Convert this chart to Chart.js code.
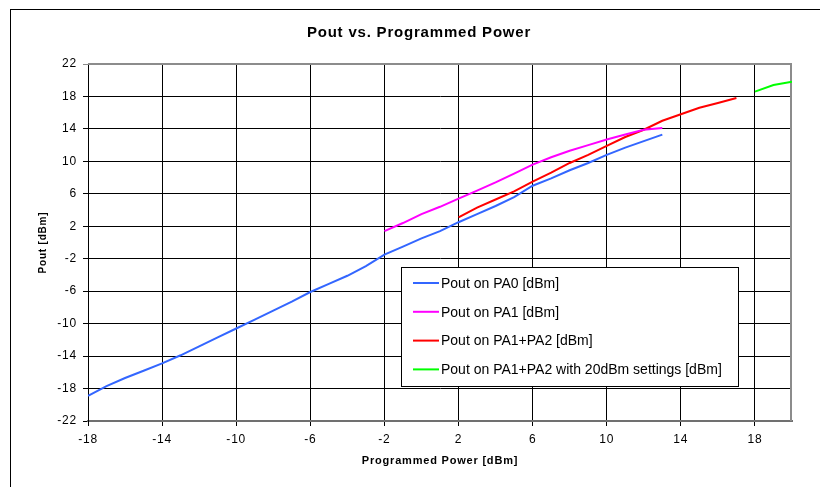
<!DOCTYPE html>
<html>
<head>
<meta charset="utf-8">
<script src="https://cdn.jsdelivr.net/npm/chart.js@4.4.1/dist/chart.umd.min.js"></script>
<style>
  body { margin: 0; background: #fff; }
</style>
</head>
<body>
<canvas id="powerChart" width="820" height="487"></canvas>
<script>
// axis ticks
const xTicks = [-18, -14, -10, -6, -2, 2, 6, 10, 14, 18];
const yTicks = [-22, -18, -14, -10, -6, -2, 2, 6, 10, 14, 18, 22];

// Pout on PA0
const progPa0 = [-18, -17, -16, -15, -14, -13, -12, -11, -10, -9, -8, -7, -6, -5, -4, -3, -2, -1, 0, 1, 2, 3, 4, 5, 6, 7, 8, 9, 10, 11, 12, 13];
const poutPa0 = [-18.9, -17.7, -16.7, -15.8, -14.9, -13.9, -12.8, -11.7, -10.6, -9.5, -8.4, -7.3, -6.1, -5.1, -4.1, -2.9, -1.5, -0.5, 0.5, 1.4, 2.5, 3.5, 4.5, 5.6, 7.0, 7.9, 8.9, 9.8, 10.8, 11.7, 12.5, 13.3];

// Pout on PA1
const progPa1 = [-2, -1, 0, 1, 2, 3, 4, 5, 6, 7, 8, 9, 10, 11, 12, 13];
const poutPa1 = [1.4, 2.4, 3.5, 4.4, 5.4, 6.4, 7.4, 8.5, 9.6, 10.5, 11.3, 12.0, 12.7, 13.3, 13.9, 14.1];

// Pout on PA1+PA2
const progPa12 = [2, 3, 4, 5, 6, 7, 8, 9, 10, 11, 12, 13, 14, 15, 16, 17];
const poutPa12 = [3.1, 4.3, 5.3, 6.3, 7.5, 8.6, 9.8, 10.8, 11.9, 13.0, 13.9, 15.0, 15.8, 16.6, 17.2, 17.8];

// Pout on PA1+PA2 with 20dBm settings
const prog20 = [18, 19, 20];
const pout20 = [18.6, 19.4, 19.8];

const FONT = 'Arial, "Liberation Sans", sans-serif';

function pairs(xs, ys) {
    return xs.map((x, i) => ({ x: x, y: ys[i] }));
}

const frameAndLegend = {
    id: 'frameAndLegend',
    afterLayout(chart) {
        // title is centred on the whole sheet in the original, not on the padded box
        if (chart.titleBlock) {
            chart.titleBlock.left = 46;
        }
    },
    beforeDraw(chart) {
        const ctx = chart.ctx;
        ctx.save();
        ctx.fillStyle = '#fff';
        ctx.fillRect(0, 0, chart.width, chart.height);
        ctx.strokeStyle = '#000';
        ctx.lineWidth = 1;
        ctx.strokeRect(10.5, 9.5, chart.width + 20, chart.height + 20);
        ctx.restore();
        // the original text is set slightly loose
        ctx.letterSpacing = '0.8px';
    },
    beforeDatasetsDraw(chart) {
        const a = chart.chartArea;
        const ctx = chart.ctx;
        ctx.save();
        ctx.strokeStyle = '#8c8c8c';
        ctx.lineWidth = 2;
        ctx.beginPath();
        ctx.moveTo(a.left, a.top);
        ctx.lineTo(a.right - 1, a.top);
        ctx.lineTo(a.right - 1, a.bottom);
        ctx.stroke();
        ctx.restore();
    },
    afterDraw(chart) {
        const a = chart.chartArea;
        const ctx = chart.ctx;
        const left = a.left + 313, top = a.top + 203, w = 337, h = 119;
        ctx.save();
        ctx.letterSpacing = '0px';
        ctx.fillStyle = '#fff';
        ctx.fillRect(left, top, w, h);
        ctx.strokeStyle = '#000';
        ctx.lineWidth = 1;
        ctx.strokeRect(left + 0.5, top + 0.5, w, h);
        ctx.font = '14px ' + FONT;
        ctx.textBaseline = 'middle';
        chart.data.datasets.forEach((ds, i) => {
            const y = top + 16 + i * 28.8;
            ctx.strokeStyle = ds.borderColor;
            ctx.lineWidth = 2;
            ctx.beginPath();
            ctx.moveTo(left + 12, y);
            ctx.lineTo(left + 38, y);
            ctx.stroke();
            ctx.fillStyle = '#000';
            ctx.fillText(ds.label, left + 40, y + 1);
        });
        ctx.restore();
    }
};

const ctx = document.getElementById('powerChart').getContext('2d');
new Chart(ctx, {
    type: 'line',
    data: {
        datasets: [
            { label: 'Pout on PA0 [dBm]', data: pairs(progPa0, poutPa0), borderColor: '#3366ff' },
            { label: 'Pout on PA1 [dBm]', data: pairs(progPa1, poutPa1), borderColor: '#ff00ff' },
            { label: 'Pout on PA1+PA2 [dBm]', data: pairs(progPa12, poutPa12), borderColor: '#ff0000' },
            { label: 'Pout on PA1+PA2 with 20dBm settings [dBm]', data: pairs(prog20, pout20), borderColor: '#00ff00' }
        ]
    },
    options: {
        responsive: false,
        animation: false,
        layout: { padding: { left: 10, right: 28, top: 0, bottom: 0 } },
        elements: {
            line: { borderWidth: 2, tension: 0, fill: false },
            point: { radius: 0 }
        },
        plugins: {
            legend: { display: false },
            tooltip: { enabled: false },
            title: {
                display: true,
                text: 'Pout vs. Programmed Power',
                color: '#000',
                font: { family: FONT, size: 15, weight: 'bold' },
                padding: { top: 24, bottom: 22 }
            }
        },
        scales: {
            x: {
                type: 'linear',
                min: -18,
                max: 20,
                afterBuildTicks: s => { s.ticks = xTicks.map(v => ({ value: v })); },
                afterFit: s => { s.height = 66; },
                grid: { color: '#000', lineWidth: 1, tickLength: 5 },
                border: { color: '#707070', width: 2 },
                ticks: {
                    color: '#000',
                    padding: 6,
                    maxRotation: 0,
                    font: { family: FONT, size: 12 }
                },
                title: {
                    display: true,
                    text: 'Programmed Power [dBm]',
                    color: '#000',
                    font: { family: FONT, size: 11, weight: 'bold' },
                    padding: { top: 0, bottom: 19 }
                }
            },
            y: {
                min: -22,
                max: 22,
                afterBuildTicks: s => { s.ticks = yTicks.map(v => ({ value: v })); },
                afterFit: s => { s.width = 78; },
                grid: {
                    color: c => (c.tick && c.tick.value === 22) ? '#8c8c8c' : '#000',
                    lineWidth: 1,
                    tickLength: 5
                },
                border: { color: '#000', width: 1 },
                ticks: {
                    color: '#000',
                    padding: 6,
                    font: { family: FONT, size: 12 }
                },
                title: {
                    display: true,
                    text: 'Pout [dBm]',
                    color: '#000',
                    font: { family: FONT, size: 10, weight: 'bold' },
                    padding: { top: 27, bottom: 0 }
                }
            }
        }
    },
    plugins: [frameAndLegend]
});
</script>
</body>
</html>
